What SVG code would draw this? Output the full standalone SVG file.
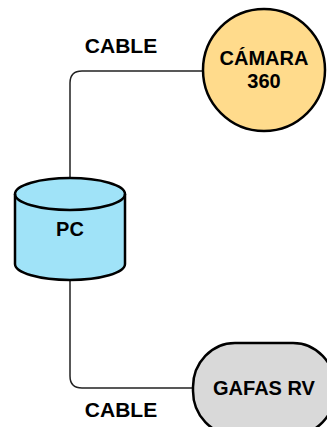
<svg xmlns="http://www.w3.org/2000/svg" width="327" height="427" viewBox="0 0 327 427">
  <style>
    .node { stroke: #000; stroke-width: 2.5; }
    .wire { fill: none; stroke: #222; stroke-width: 1.5; }
    .lbl { font-family: "Liberation Sans", Arial, sans-serif; font-weight: bold; font-size: 20px; fill: #000; text-anchor: middle; }
    .cable { font-size: 21px; }
  </style>
  <rect width="327" height="427" fill="#fff"/>

  <g id="connectors">
    <path class="wire" d="M70,178 V83 Q70,71 82,71 H202"/>
    <path class="wire" d="M70,280 V376 Q70,388 82,388 H193"/>
  </g>

  <g id="cable-top">
    <text class="lbl cable" x="121" y="53">CABLE</text>
  </g>
  <g id="cable-bottom">
    <text class="lbl cable" x="121" y="417">CABLE</text>
  </g>

  <g id="camara">
    <circle class="node" cx="264" cy="70" r="61" fill="#FFDB8C"/>
    <text class="lbl" x="264" y="65">CÁMARA</text>
    <text class="lbl" x="264" y="88">360</text>
  </g>

  <g id="pc">
    <path class="node" fill="#A0E3F8" d="M15,194 V264 A55,16 0 0 0 125,264 V194 A55,16 0 0 0 15,194 Z"/>
    <path class="node" fill="none" d="M15,194 A55,16 0 0 0 125,194"/>
    <text class="lbl" x="70" y="236">PC</text>
  </g>

  <g id="gafas">
    <rect class="node" x="193" y="343" width="142" height="92" rx="42" ry="44" fill="#D9D9D9"/>
    <text class="lbl" x="264" y="395">GAFAS RV</text>
  </g>
</svg>
